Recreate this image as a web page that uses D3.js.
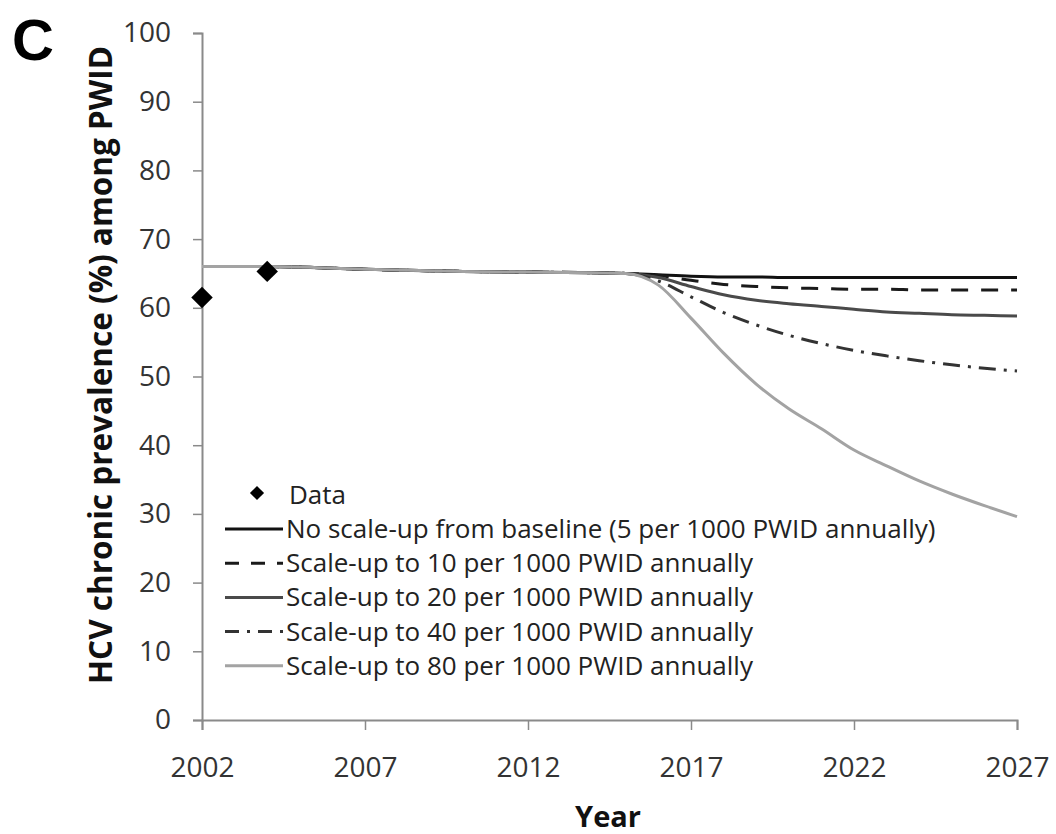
<!DOCTYPE html>
<html>
<head>
<meta charset="utf-8">
<script src="https://cdn.jsdelivr.net/npm/d3@7"></script>
<style>
  html, body { margin: 0; padding: 0; background: #fff; }
  svg { display: block; font-family: "Open Sans", Lato, sans-serif; }
</style>
</head>
<body>
<svg id="chart" width="1056" height="834"></svg>
<script>
// Model years and projected chronic HCV prevalence (%) among PWID
const years = [2002, 2004, 2007, 2010, 2012, 2014, 2015, 2016, 2017, 2018, 2019, 2020, 2021, 2022, 2023, 2024, 2025, 2026, 2027];

const historic = [66.0, 66.0, 65.6, 65.3, 65.2, 65.1, 65.0];

const noScaleUp = historic.concat([64.8, 64.6, 64.5, 64.5, 64.4, 64.4, 64.4, 64.4, 64.4, 64.4, 64.4, 64.4]);
const scale10   = historic.concat([64.7, 64.0, 63.4, 63.1, 62.9, 62.8, 62.7, 62.7, 62.6, 62.6, 62.6, 62.6]);
const scale20   = historic.concat([64.4, 63.1, 61.9, 61.1, 60.6, 60.2, 59.8, 59.4, 59.2, 59.0, 58.9, 58.8]);
const scale40   = historic.concat([63.9, 61.6, 59.3, 57.5, 56.0, 54.8, 53.8, 53.0, 52.3, 51.7, 51.2, 50.8]);
const scale80   = historic.concat([63.3, 58.5, 53.4, 48.9, 45.3, 42.4, 39.3, 37.0, 34.8, 32.9, 31.2, 29.6]);

// Observed data points
const dataYears  = [2002, 2004];
const dataValues = [61.5, 65.3];
const dataLow    = [60.5, 64.0];
const dataHigh   = [62.5, 66.6];

const seriesNames = [
  "No scale-up from baseline (5 per 1000 PWID annually)",
  "Scale-up to 10 per 1000 PWID annually",
  "Scale-up to 20 per 1000 PWID annually",
  "Scale-up to 40 per 1000 PWID annually",
  "Scale-up to 80 per 1000 PWID annually"
];
const seriesValues = [noScaleUp, scale10, scale20, scale40, scale80];

const yTicks = [0, 10, 20, 30, 40, 50, 60, 70, 80, 90, 100];
const xTicks = [2002, 2007, 2012, 2017, 2022, 2027];

// Line styles per series
const styles = [
  { color: "#111111", width: 3, dash: null,        legendDash: null },
  { color: "#1a1a1a", width: 3, dash: "17,13",     legendDash: "14,12" },
  { color: "#4a4a4a", width: 3, dash: null,        legendDash: null },
  { color: "#333333", width: 3, dash: "17,8,3,8",  legendDash: "14,8,3,8" },
  { color: "#a3a3a3", width: 3, dash: null,        legendDash: null }
];

const svg = d3.select("#chart");
const plotLeft = 202, plotRight = 1017, plotTop = 33, plotBottom = 720;

const x = d3.scaleLinear().domain([2002, 2027]).range([plotLeft, plotRight]);
const y = d3.scaleLinear().domain([0, 100]).range([plotBottom, plotTop]);

const axisColor = "#8a8a8a";
const tickText = "#333";

// Y axis
const yAxis = svg.append("g")
  .attr("transform", `translate(${plotLeft},0)`)
  .call(d3.axisLeft(y).tickValues(yTicks).tickSize(9).tickPadding(22).tickFormat(d3.format("d")));
yAxis.select(".domain").attr("stroke", axisColor).attr("stroke-width", 2);
yAxis.selectAll(".tick line").attr("stroke", axisColor).attr("stroke-width", 1.5);
yAxis.selectAll(".tick text").attr("fill", tickText).style("font-size", "28px").style("font-family", "'Open Sans', sans-serif");

// X axis
const xAxis = svg.append("g")
  .attr("transform", `translate(0,${plotBottom})`)
  .call(d3.axisBottom(x).tickValues(xTicks).tickSize(10).tickPadding(27).tickFormat(d3.format("d")));
xAxis.select(".domain").attr("stroke", axisColor).attr("stroke-width", 2);
xAxis.selectAll(".tick line").attr("stroke", axisColor).attr("stroke-width", 1.5);
xAxis.selectAll(".tick text").attr("fill", tickText).style("font-size", "28px").style("font-family", "'Open Sans', sans-serif");

// Projection lines
const line = d3.line()
  .x((d, i) => x(years[i]))
  .y(d => y(d))
  .curve(d3.curveMonotoneX);

seriesValues.forEach((vals, i) => {
  const s = styles[i];
  svg.append("path")
    .datum(vals)
    .attr("d", line)
    .attr("fill", "none")
    .attr("stroke", s.color)
    .attr("stroke-width", s.width)
    .attr("stroke-dasharray", s.dash)
    .attr("stroke-linejoin", "round");
});

// Observed data with error bars (diamond = square turned 45 degrees)
const diamond = d3.symbol().type(d3.symbolSquare).size(230);
dataYears.forEach((yr, i) => {
  svg.append("line")
    .attr("x1", x(yr)).attr("x2", x(yr))
    .attr("y1", y(dataLow[i])).attr("y2", y(dataHigh[i]))
    .attr("stroke", "#000").attr("stroke-width", 2);
  svg.append("path")
    .attr("d", diamond)
    .attr("transform", `translate(${x(yr)},${y(dataValues[i])}) rotate(45)`)
    .attr("fill", "#000");
});

// Legend
const legend = svg.append("g");
const legFont = "26px";
legend.append("path")
  .attr("d", d3.symbol().type(d3.symbolSquare).size(100))
  .attr("transform", "translate(257,493) rotate(45)")
  .attr("fill", "#000");
legend.append("text")
  .attr("x", 289).attr("y", 504)
  .attr("fill", "#222").style("font-size", legFont)
  .text("Data");

seriesNames.forEach((name, i) => {
  const ly = 529 + i * 34.2;
  const s = styles[i];
  legend.append("line")
    .attr("x1", 225).attr("x2", 283)
    .attr("y1", ly).attr("y2", ly)
    .attr("stroke", s.color)
    .attr("stroke-width", s.width)
    .attr("stroke-dasharray", s.legendDash);
  legend.append("text")
    .attr("x", 286).attr("y", ly + 9)
    .attr("fill", "#222").style("font-size", legFont)
    .text(name);
});

// Axis titles
svg.append("text")
  .attr("transform", "translate(112,365) rotate(-90)")
  .attr("text-anchor", "middle")
  .attr("fill", "#111")
  .style("font-size", "31.5px").style("font-weight", "bold")
  .text("HCV chronic prevalence (%) among PWID");

svg.append("text")
  .attr("x", 608).attr("y", 827)
  .attr("text-anchor", "middle")
  .attr("fill", "#111")
  .style("font-size", "29px").style("font-weight", "bold")
  .text("Year");

// Panel letter
svg.append("text")
  .attr("x", 12).attr("y", 60)
  .attr("fill", "#000")
  .style("font-size", "58px").style("font-weight", "bold")
  .style("font-family", "'Liberation Sans', Arial, sans-serif")
  .text("C");
</script>
</body>
</html>
